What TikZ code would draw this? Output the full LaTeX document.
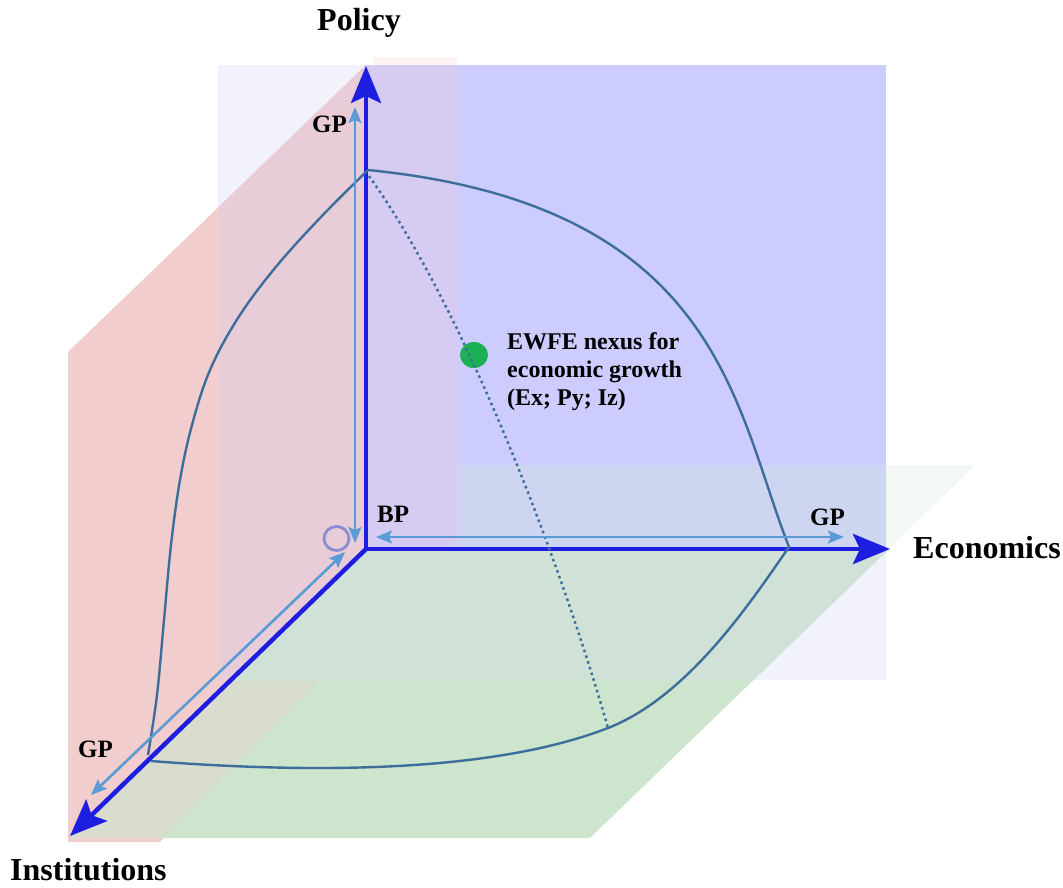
\documentclass[tikz,border=0pt]{standalone}
\usepackage{fontspec}
\setmainfont{Liberation Serif}
\usetikzlibrary{arrows.meta}

% plane and line colours
\definecolor{lavfill}{RGB}{242,242,252}
\definecolor{planeblue}{RGB}{204,204,255}
\definecolor{redfill}{RGB}{242,205,205}
\definecolor{redtop}{RGB}{252,242,242}
\definecolor{redlav}{RGB}{232,205,217}
\definecolor{redblue}{RGB}{214,204,242}
\definecolor{greenfill}{RGB}{205,228,205}
\definecolor{greenlav}{RGB}{208,225,216}
\definecolor{greenred}{RGB}{216,221,206}
\definecolor{greenfaint}{RGB}{244,248,244}
\definecolor{greenblue}{RGB}{205,213,240}
\definecolor{axisblue}{RGB}{30,30,225}
\definecolor{gpblue}{RGB}{91,155,213}
\definecolor{curveblue}{RGB}{61,110,155}
\definecolor{dotgreen}{RGB}{28,176,84}
\definecolor{ringcol}{RGB}{140,140,210}

\begin{document}
\begin{tikzpicture}[x=1pt,y=-1pt,
  axis/.style={line width=4.5pt, draw=axisblue, -{Stealth[length=37pt,width=30pt,inset=7pt]}},
  gparrow/.style={line width=2.6pt, draw=gpblue,
    {Stealth[length=16pt,width=13pt,inset=3pt]}-{Stealth[length=16pt,width=13pt,inset=3pt]}},
  surf/.style={line width=2.4pt, draw=curveblue, line join=round},
  trace/.style={line width=2.5pt, draw=curveblue, dash pattern=on 2.5pt off 3.5pt},
  lab/.style={font=\fontsize{25}{30}\selectfont\bfseries, inner sep=0pt},
  axlab/.style={font=\fontsize{32}{38}\selectfont\bfseries, inner sep=0pt}]
\useasboundingbox (0,0) rectangle (1063,887);

% ---------- planes ----------
\def\redplane{(68,352) -- (366,65) -- (457,65) -- (457,540) -- (160,842) -- (68,842) -- cycle}
\def\floorplane{(366,549) -- (889,549) -- (590,838) -- (70,838) -- cycle}
\def\floortop{(455,465) -- (975,465) -- (889,549) -- (366,549) -- cycle}

\fill[lavfill] (218,65) rectangle (886,680);
\fill[planeblue] (366,65) rectangle (886,549);

% faint upper strip of the floor
\fill[greenfaint] \floortop;
\begin{scope}
  \clip (366,65) rectangle (886,549);
  \fill[greenblue] \floortop;
\end{scope}

% Policy--Institutions wall
\fill[redtop] (373,57) rectangle (457,65);
\fill[redfill] \redplane;
\begin{scope}
  \clip (218,65) rectangle (366,680);
  \fill[redlav] \redplane;
\end{scope}
\begin{scope}
  \clip (366,65) rectangle (886,549);
  \fill[redblue] \redplane;
\end{scope}

% Economics--Institutions floor
\fill[greenfill] \floorplane;
\begin{scope}
  \clip \floorplane;
  \fill[greenred] \redplane;
\end{scope}
\begin{scope}
  \clip (218,65) rectangle (886,680);
  \fill[greenlav] \floorplane;
\end{scope}

% ---------- named points ----------
\coordinate (O) at (366,549);
\coordinate (Ptip) at (366,66);
\coordinate (Etip) at (890,549);
\coordinate (Itip) at (70,836);

\coordinate (P) at (368,170);
\coordinate (E) at (789,547);
\coordinate (I1) at (148,755);
\coordinate (I2) at (151,761);
\coordinate (D) at (608,728);
\coordinate (Ps) at (369,176);

\coordinate (gv1) at (355,107);
\coordinate (gv2) at (355,543);
\coordinate (gh1) at (376,537);
\coordinate (gh2) at (844,537);
\coordinate (gd1) at (345,552);
\coordinate (gd2) at (91,795);

% ---------- axes ----------
\draw[axis] (O) -- (Ptip);
\draw[axis] (O) -- (Etip);
\draw[axis] (O) -- (Itip);

% ---------- frontier surface ----------
\draw[surf] (P) .. controls (720,205) and (734,407) .. (E);
\draw[surf] plot[smooth, tension=0.6] coordinates {(P) (320,218) (275,268) (238,318) (210,370) (192,425) (180,480) (171,545) (164,620) (157,695) (I1)};
\draw[surf] (I2) .. controls (330,775) and (500,770) .. (D)
                 .. controls (690,696) and (754,597) .. (E);

% nexus point and its trace
\fill[dotgreen] (474,355) ellipse [x radius=14pt, y radius=13pt];
\node[inner sep=0pt, minimum size=1pt] (nexus) at (474,355) {};
\draw[trace] (Ps) .. controls (465,310) and (560,560) .. (D);

% ---------- growth-path arrows ----------
\draw[gparrow] (gv1) -- (gv2);
\draw[gparrow] (gh1) -- (gh2);
\draw[gparrow] (gd1) -- (gd2);

% origin ring
\draw[ringcol, line width=2.8pt] (336.5,538.5) ellipse [x radius=12.5pt, y radius=12pt];
\node[inner sep=0pt] (ring) at (336.5,538.5) {};

% ---------- labels ----------
\node[axlab, anchor=base] (policy) at (359,30) {Policy};
\node[axlab, anchor=base west] (econ) at (913,558) {Economics};
\node[axlab, anchor=base west] (inst) at (10,880) {Institutions};

\node[lab, anchor=base west] (gptop) at (312,132) {GP};
\node[lab, anchor=base west] (gpleft) at (78,757) {GP};
\node[lab, anchor=base west] (gpright) at (810,525) {GP};
\node[lab, anchor=base west] (bp) at (377,522) {BP};

\node[font=\fontsize{24}{28}\selectfont\bfseries, inner sep=0pt, anchor=north west, align=left]
  (nexuslab) at (507,332) {EWFE nexus for\\economic growth\\(Ex; Py; Iz)};
\end{tikzpicture}
\end{document}
